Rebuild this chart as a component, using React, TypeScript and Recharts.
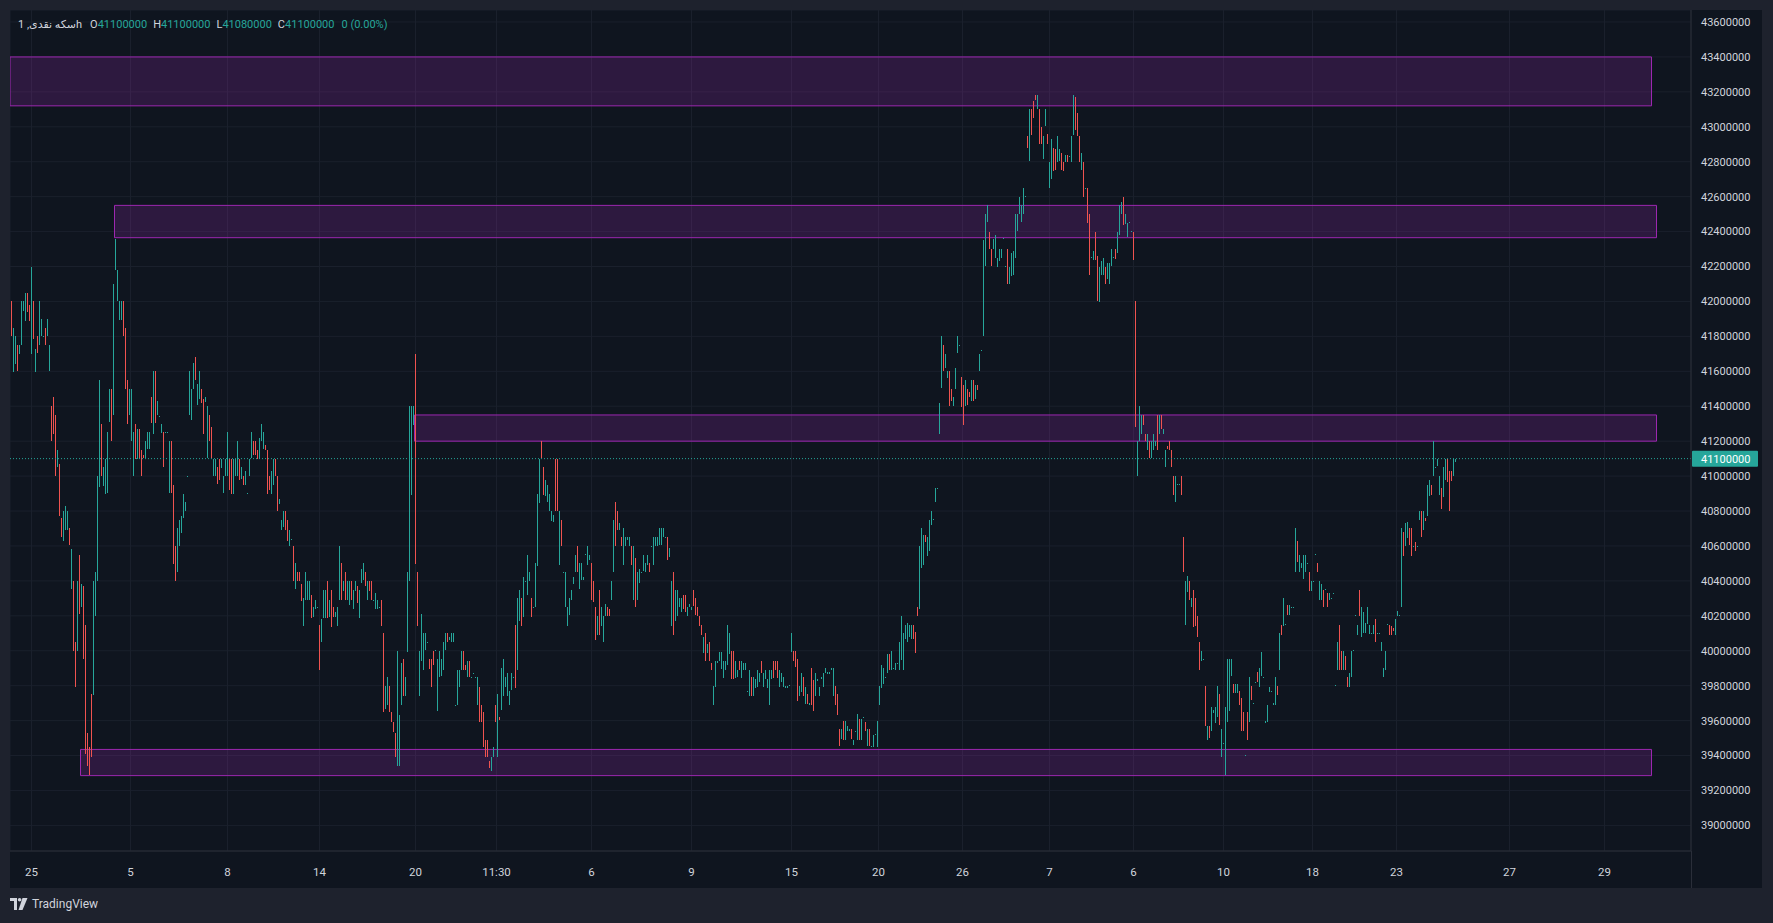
import React from 'react';
import {
  ComposedChart,
  Bar,
  XAxis,
  YAxis,
  CartesianGrid,
  ReferenceArea,
  ReferenceLine,
} from 'recharts';

// prices below are in units of 10 000 (4110 -> 41 100 000), each candle is [open, close]
const UNIT = 10000;

const segA: [number, number][] = [
  [4200,4180],[4160,4185],[4164,4180],[4175,4160],[4170,4175],[4175,4200],[4194,4200],[4189,4205],[4205,4194],[4198,4189],
  [4170,4220],[4200,4178],[4160,4173],[4180,4170],[4175,4200],[4180,4190],[4180,4180],[4185,4175],[4180,4190],[4160,4175],
  [4140,4120],[4145,4124],[4135,4100],[4105,4115],[4107,4077],[4076,4065],[4063,4080],[4069,4083],[4069,4080],[4070,4060],
  [4035,4058],[4040,4000],[4005,3979],[4000,4040],[4055,4021],[4025,4038],[4037,3995],[4015,3941],[3953,3934],[3945,3929],
  [3975,3939],[3975,4040],[4020,4045],[4040,4100],[4094,4155],[4130,4100],[4094,4105],[4090,4110],[4090,4125],[4131,4150],
  [4150,4120],[4135,4210],[4218,4236],[4200,4218],[4189,4200],[4189,4200],[4200,4180],[4185,4150],[4155,4130],[4135,4150],
  [4120,4150],[4100,4125],[4130,4110],[4110,4127],[4127,4110],[4115,4100],[4112,4110],[4110,4120],[4115,4125],[4115,4125],
  [4145,4130],[4124,4160],[4160,4130],[4135,4143],
  [4134,4134],[4125,4130],[4125,4105],[4125,4125],[4125,4125],[4090,4120],[4120,4090],[4095,4050],[4060,4040],[4045,4070],
  [4060,4075],[4067,4077],[4076,4090],[4080,4085],[4100,4100],[4135,4160],[4132,4150],[4150,4165],[4168,4155],[4141,4153],
  [4144,4160],[4150,4142],[4144,4124],[4142,4145],[4110,4140],[4135,4120],[4128,4110],[4100,4110],[4100,4110],[4105,4095],
  [4110,4098],[4105,4110],[4090,4100],[4100,4110],[4100,4125],[4110,4092],[4110,4090],[4090,4110],[4100,4110],[4100,4120],
  [4110,4098],[4098,4105],[4100,4095],[4095,4103],[4090,4090],[4100,4110],[4110,4125],[4120,4112],[4120,4112],[4115,4110],
  [4110,4122],[4120,4130],[4115,4125],[4118,4115],[4115,4090],[4100,4092],[4090,4103],[4095,4110],[4110,4100],[4100,4080],
  [4084,4087],[4069,4075],[4071,4080],[4080,4069],[4075,4063],[4060,4069],[4064,4064],[4060,4040],[4035,4050],[4045,4040],
  [4045,4040],
];

const segB: [number, number][] = [
  [4038,4028],[4014,4030],[4029,4045],[4029,4040],[4029,4040],[4032,4019],[4019,4025],[4024,4029],[4025,4025],[4015,3989],
  [4005,4018],[4019,4035],[4019,4035],[4040,4019],[4019,4029],[4035,4014],[4025,4019],[4019,4022],[4014,4025],[4029,4060],
  [4050,4029],[4034,4040],[4045,4029],[4029,4040],[4026,4040],[4040,4029],[4024,4035],[4034,4040],[4037,4027],[4019,4035],
  [4039,4047],[4040,4050],[4045,4037],[4029,4040],[4040,4034],[4040,4029],[4029,4029],[4024,4033],[4024,4029],[4025,4025],
  [4029,4014],[4010,3965],[3967,3980],[3969,3985],[3980,3965],[3965,3959],[3959,3953],[3953,3939],[3934,4000],[3934,3963],
  [3969,3993],[3995,3974],[3974,3985],[3999,4045],[4040,4140],[4089,4140],[4129,4140],[4170,4050],[4045,4014],[3974,4000],
  [3994,4021],[3989,4010],[4000,4010],[4005,4005],[3995,3989],[3995,3979],[4000,3992],[4000,4000],[3965,3995],[3985,4000],
  [3985,3995],[3989,4005],[4000,4010],[4010,4005],[4006,4008],[4005,4010],[4005,4010],[3969,3969],[3969,3989],[3979,3989],
  [3989,4000],[4000,3989],[3992,3989],[3985,3994],[3994,3985],[3985,3985],[3987,3987],[3985,3985],[3969,3985],[3979,3959],
  [3969,3959],[3965,3945],[3949,3939],[3949,3939],[3937,3933],[3931,3939],[3939,3945],[3969,3959],[3939,3975],[3962,3960],
  [3966,3990],[3974,3995],[3979,3985],[3974,3987],[3969,3977],[3977,3987],[3985,3985],[4015,3979],[3989,4030],[4017,4035],
  [4030,4014],[4019,4042],[4040,4040],[4032,4055],[4040,4045],[4030,4019],[4025,4025],[4025,4050],[4049,4090],[4085,4110],
  [4120,4110],[4105,4089],[4089,4098],[4085,4095],[4080,4090],[4074,4080],[4074,4078],[4110,4080],[4110,4080],[4049,4080],
  [4075,4060],[4045,4045],[4025,4045],[4014,4025],[4020,4030],[4029,4035],[4038,4042],[4045,4055],[4060,4045],[4035,4050],
];

const segC: [number, number][] = [
  [4040,4050],[4040,4042],[4055,4055],[4049,4060],[4052,4055],[4050,4029],[4040,4028],[4025,4006],[4009,4020],[4035,4009],
  [4014,4025],[4005,4020],[4020,4027],[4025,4020],[4024,4020],[4029,4040],[4045,4075],[4085,4060],[4080,4069],[4069,4073],
  [4065,4060],[4049,4070],[4060,4065],[4063,4065],[4060,4065],[4060,4049],[4029,4060],[4053,4025],[4029,4045],[4039,4047],
  [4045,4045],[4046,4055],[4045,4050],[4049,4055],[4050,4045],[4060,4060],[4049,4065],[4060,4065],[4060,4065],[4060,4070],
  [4060,4070],[4065,4070],[4065,4065],[4065,4052],[4054,4059],[4014,4040],[4045,4009],[4017,4035],[4020,4035],[4025,4030],
  [4022,4030],[4032,4024],[4032,4022],[4020,4025],[4025,4027],[4023,4025],[4035,4026],[4030,4020],[4025,4020],[4020,4014],
  [4015,4009],[3999,4008],[4010,3994],[3999,4004],[4005,3994],[3993,3989],[3969,3980],[3979,3994],[3993,3994],[3994,3999],
  [3989,3999],[3984,3994],[3989,3994],[3992,4015],[3998,4010],[4000,3984],[4000,3984],[3984,3994],[3985,3989],[3994,3989],
  [3984,3994],[3989,3993],[3989,3993],[3977,3977],[3974,3989],[3985,3974],[3974,3985],[3979,3984],[3979,3989],[3982,3987],
  [3994,3987],[3979,3987],[3984,3989],[3979,3984],[3969,3989],[3984,3989],[3994,3984],[3994,3989],[3994,3984],[3979,3989],
  [3982,3987],[3979,3985],[3979,3980],[3979,3980],[3980,3980],[3999,4010],[4000,3994],[4000,3991],[3995,3971],[3974,3980],
  [3976,3987],[3985,3974],[3969,3979],[3975,3969],[3969,3970],[3990,3969],[3983,3965],[3974,3987],[3983,3984],[3974,3979],
  [3984,3985],[3979,3987],[3987,3990],[3987,3988],[3987,3988],[3989,3990],[3974,3990],[3980,3969],[3975,3963],[3955,3945],
  [3949,3955],[3960,3949],[3949,3960],[3954,3957],[3954,3955],[3955,3949],[3946,3949],[3954,3954],[3949,3964],[3961,3949],
  [3949,3961],[3962,3962],[3959,3954],[3945,3955],[3955,3945],[3945,3945],[3945,3952],[3952,3952],[3945,3960],[3969,3980],
];

const segD: [number, number][] = [
  [3979,3992],[3981,3990],[3985,3985],[3987,3998],[3998,3989],[3989,4000],[3990,3990],[3989,3993],[3993,3993],[3989,4005],
  [3995,4020],[3989,4010],[4007,4015],[4005,4016],[4008,4015],[4007,4015],[4015,4007],[4011,3999],[4025,4020],[4024,4060],
  [4047,4070],[4049,4066],[4066,4062],[4054,4065],[4057,4075],[4072,4080],[4075,4075],[4085,4093],[4093,4093],[4124,4142],
  [4150,4180],[4175,4160],[4162,4170],[4156,4160],[4160,4140],[4150,4143],[4140,4145],[4150,4162],[4170,4180],[4175,4175],
  [4157,4140],[4152,4129],[4140,4155],[4150,4141],[4148,4145],[4143,4155],[4155,4143],[4144,4152],[4152,4149],[4160,4170],
  [4172,4172],[4180,4235],[4220,4250],[4245,4255],[4240,4230],[4230,4220],[4230,4236],[4225,4238],[4220,4225],[4223,4230],
  [4225,4230],[4236,4236],[4220,4220],[4230,4210],[4210,4220],[4215,4228],[4215,4229],[4225,4250],[4240,4250],[4250,4260],
  [4245,4255],[4250,4265],[4260,4260],[4295,4288],[4280,4310],[4310,4295],[4315,4305],[4318,4315],[4310,4318],[4310,4290],
  [4300,4290],[4282,4295],[4300,4310],[4296,4290],[4265,4280],[4270,4293],[4288,4275],[4287,4275],[4280,4295],[4280,4287],
  [4285,4275],[4280,4275],[4280,4284],[4284,4280],[4283,4283],[4280,4295],[4295,4318],[4317,4298],[4308,4295],[4295,4280],
  [4275,4285],[4280,4260],[4265,4265],[4265,4245],[4250,4215],[4225,4225],[4224,4229],[4240,4224],[4226,4200],[4200,4220],
];

const segE: [number, number][] = [
  [4215,4223],[4215,4225],[4220,4210],[4213,4222],[4210,4222],[4220,4230],[4225,4225],[4230,4224],[4228,4240],[4238,4255],
  [4250,4257],[4260,4244],[4244,4250],[4237,4245],[4245,4245],[4240,4240],[4240,4224],[4200,4128],[4100,4120],[4120,4140],
  [4124,4135],[4135,4129],[4124,4120],[4115,4124],[4120,4110],[4110,4120],[4115,4124],[4117,4120],[4135,4115],[4124,4135],
  [4135,4127],[4124,4127],[4105,4115],[4117,4115],[4120,4115],[4115,4105],[4100,4089],[4085,4100],[4095,4095],[4095,4095],
  [4100,4089],[4065,4045],[4015,4040],[4034,4043],[4040,4029],[4025,4030],[4035,4014],[4030,4014],[4020,4008],[4005,3989],
  [3994,4000],[3995,3995],[3980,3957],[3949,3957],[3957,3950],[3954,3968],[3964,3966],[3959,3968],[3962,3980],[3975,3957],
  [3939,3955],[3947,3947],[3929,3968],[3959,3995],[3965,3995],[3985,3995],[3981,3976],[3976,3981],[3976,3981],[3977,3969],
  [3973,3954],[3965,3954],[3940,3940],[3965,3949],[3959,3985],[3980,3972],[3970,3970],[3982,3982],[3988,3982],[3979,3990],
  [3985,3999],[3985,3985],[3959,3960],[3959,3969],[3976,3979],[3977,3977],[3969,3970],[3969,3985],[3980,3975],[3989,4010],
  [4015,4009],[4014,4030],[4015,4015],[4026,4020],[4020,4026],[4025,4025],[4025,4025],[4045,4070],[4063,4051],[4045,4055],
  [4047,4050],[4041,4055],[4045,4055],[4050,4050],[4045,4034],[4034,4040],[4040,4040],[4055,4055],[4050,4045],[4029,4040],
  [4029,4038],[4035,4025],[4035,4035],[4033,4025],[4029,4033],[4030,4030],[4033,4033],[3980,3980],[3989,4005],[4015,3989],
  [4000,3989],[3989,4000],[3997,3989],[3985,3979],[3979,3987],[3985,4000],[4000,4000],[4020,4020],[4009,4015],[4035,4020],
  [4008,4025],[4010,4022],[4010,4016],[4015,4025],[4010,4015],[4010,4010],[4010,4015],[4018,4005],[4010,4010],[4010,4010],
  [4000,4005],[3985,3990],[3989,4000],[4015,4015],[4015,4009],[4014,4009],[4013,4011],[4009,4018],[4020,4023],[4020,4020],
  [4025,4070],[4068,4054],[4060,4073],[4065,4074],[4070,4060],[4070,4054],[4060,4060],[4062,4057],[4060,4060],[4075,4080],
  [4080,4065],[4069,4080],[4076,4074],[4077,4095],[4089,4098],[4095,4089],[4100,4120],[4105,4105],[4106,4110],[4089,4100],
  [4093,4081],[4088,4105],[4098,4110],[4110,4097],[4103,4080],[4103,4097],[4100,4110],[4108,4110],
];

const priceTicks = [
  39000000, 39200000, 39400000, 39600000, 39800000, 40000000, 40200000, 40400000, 40600000, 40800000,
  41000000, 41200000, 41400000, 41600000, 41800000, 42000000, 42200000, 42400000, 42600000, 42800000,
  43000000, 43200000, 43400000, 43600000,
];

// bar number of each date label on the time axis
const timeTickBars = [10, 59.5, 108, 154, 202, 242.5, 290, 340, 390, 433.5, 475.5, 519, 561, 606, 650.5, 692.5, 749, 796.5];
const timeTickLabels = ['25', '5', '8', '14', '20', '11:30', '6', '9', '15', '20', '26', '7', '6', '10', '18', '23', '27', '29'];

// supply / demand boxes drawn on the chart (price in units, start / end in bars)
const zoneLow = [4312, 4236.5, 4120, 3928.5];
const zoneHigh = [4340, 4255, 4135, 3943.5];
const zoneFrom = [-0.75, 51.5, 201.5, 34.5];
const zoneTo = [820, 822.5, 822.5, 820];

const symbolTitle = 'سکه نقدی, 1h';
const legendKeys = ['O', 'H', 'L', 'C'];
const legendValues = [41100000, 41100000, 41080000, 41100000];
const legendChange = '0 (0.00%)';
const lastPrice = 41100000;

const UP = '#26a69a';
const DOWN = '#ef5350';
const TEXT = '#d1d4dc';
const PANE = '#0f151f';
const FRAME = '#1e222d';
const LINE = '#2a2e39';
const GRID = '#1a202c';
const FONT = 'Roboto, "DejaVu Sans", sans-serif';

const allCandles = [...segA, ...segB, ...segC, ...segD, ...segE];
const data = allCandles.map(([o, c], i) => {
  const lo = Math.min(o, c);
  const hi = Math.max(o, c);
  return { i, range: [lo * UNIT, (hi === lo ? hi + 0.2 : hi) * UNIT], up: c >= o };
});

const tickLabelMap = new Map(timeTickBars.map((b, k) => [b, timeTickLabels[k]]));

const Candle = (props: any) => {
  const { x, y, width, height, payload } = props;
  if (x == null || y == null || !payload) return null;
  const top = Math.round(Math.min(y, y + height));
  const h = Math.max(1, Math.round(Math.abs(height)));
  return (
    <rect
      x={Math.round(x + width / 2 - 0.5)}
      y={top}
      width={1}
      height={h}
      fill={payload.up ? UP : DOWN}
    />
  );
};

const PriceTag = (props: any) => {
  const vb = props.viewBox;
  if (!vb) return null;
  const x = vb.x + vb.width;
  const y = vb.y;
  return (
    <g>
      <rect x={x + 1} y={y - 8} width={66} height={16} fill={UP} rx={1} />
      <text x={x + 10} y={y + 0.5} dominantBaseline="central" fill="#ffffff" fontSize={11} fontFamily={FONT}>
        {lastPrice}
      </text>
    </g>
  );
};

export default function App() {
  return (
    <div style={{ position: 'relative', width: 1773, height: 923, background: FRAME, fontFamily: FONT }}>
      <style>{`body{margin:0;background:${FRAME};}`}</style>
      <div style={{ position: 'absolute', left: 10, top: 10, width: 1752, height: 878, background: PANE }} />

      <div style={{ position: 'absolute', left: 10, top: 10 }}>
        <ComposedChart width={1752} height={878} data={data} margin={{ top: 0, right: 0, bottom: 0, left: 0 }}>
          <CartesianGrid stroke={GRID} strokeWidth={1} />
          <XAxis
            dataKey="i"
            type="number"
            domain={[-0.75, 839.75]}
            allowDataOverflow
            ticks={timeTickBars}
            interval={0}
            tickFormatter={(v: number) => tickLabelMap.get(v) ?? ''}
            height={37}
            axisLine={{ stroke: LINE }}
            tickLine={false}
            tickMargin={11}
            tick={{ fill: TEXT, fontSize: 11.5, fontFamily: FONT }}
          />
          <YAxis
            type="number"
            orientation="right"
            domain={[38853400, 43668700]}
            allowDataOverflow
            ticks={priceTicks}
            interval={0}
            width={71}
            axisLine={{ stroke: LINE }}
            tickLine={false}
            tickMargin={4}
            tick={{ fill: TEXT, fontSize: 11, fontFamily: FONT }}
          />
          {zoneLow.map((lo, k) => (
            <ReferenceArea
              key={k}
              x1={zoneFrom[k]}
              x2={zoneTo[k]}
              y1={lo * UNIT}
              y2={zoneHigh[k] * UNIT}
              fill="#9c27b0"
              fillOpacity={0.22}
              stroke="#9c27b0"
              strokeOpacity={1}
              strokeWidth={1}
            />
          ))}
          <Bar dataKey="range" barSize={1} isAnimationActive={false} shape={Candle} />
          <ReferenceLine
            y={lastPrice}
            stroke={UP}
            strokeDasharray="1 2"
            strokeWidth={1}
            label={PriceTag}
          />
        </ComposedChart>
      </div>

      {/* price scale separator through the time axis row */}
      <div style={{ position: 'absolute', left: 1691, top: 851, width: 1, height: 37, background: LINE }} />

      <div
        style={{
          position: 'absolute',
          left: 18,
          top: 17,
          fontSize: 11,
          lineHeight: '16px',
          color: TEXT,
          whiteSpace: 'nowrap',
          display: 'flex',
          gap: 0,
        }}
      >
        <span style={{ marginRight: 8 }}>{symbolTitle}</span>
        {legendKeys.map((k, n) => (
          <span key={k} style={{ marginRight: 6 }}>
            <span style={{ color: TEXT }}>{k}</span>
            <span style={{ color: UP }}>{legendValues[n]}</span>
          </span>
        ))}
        <span style={{ color: UP, marginLeft: 1 }}>{legendChange}</span>
      </div>

      <div style={{ position: 'absolute', left: 10, top: 897, display: 'flex', alignItems: 'center', gap: 4 }}>
        <svg width={18} height={12} viewBox="0 0 18 12">
          <path d="M0 0h7v12H4V3H0z" fill={TEXT} />
          <circle cx={9.6} cy={1.8} r={1.8} fill={TEXT} />
          <path d="M12.5 0h5l-5 12H8.5z" fill={TEXT} />
        </svg>
        <span style={{ color: TEXT, fontSize: 12 }}>TradingView</span>
      </div>
    </div>
  );
}
